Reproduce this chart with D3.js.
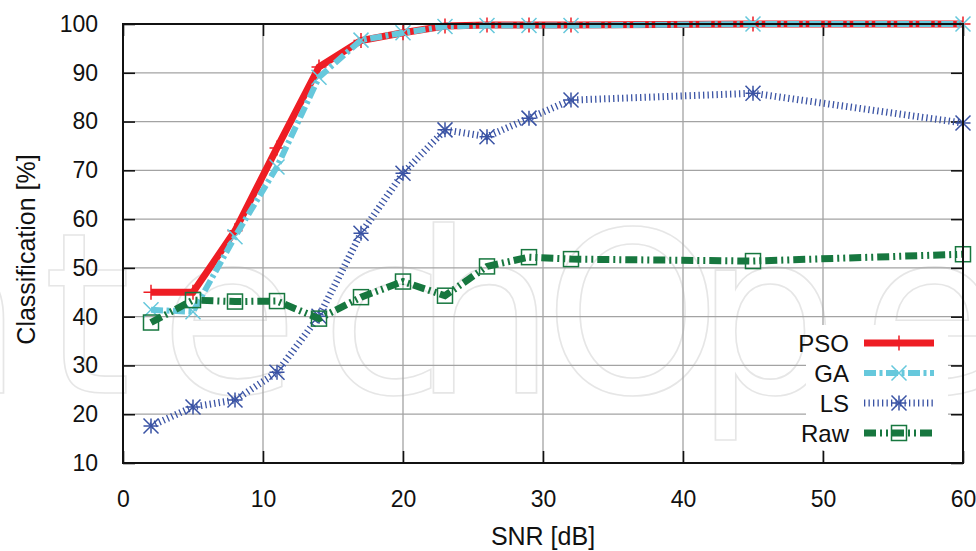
<!DOCTYPE html>
<html>
<head>
<meta charset="utf-8">
<script src="https://cdn.jsdelivr.net/npm/d3@7"></script>
<style>
  body { margin: 0; background: #fff; }
  text { font-family: "Liberation Sans", Arial, sans-serif; fill: #111; }
</style>
</head>
<body>
<div id="chart"></div>
<script>
// data
var snr = [2, 5, 8, 11, 14, 17, 20, 23, 26, 29, 32, 45, 60];
var pso = [45.0, 45.0, 57.6, 74.6, 91.2, 96.6, 98.2, 99.6, 99.8, 99.8, 99.8, 100, 100];
var ga  = [41.4, 41.0, 56.4, 70.7, 89.1, 96.7, 98.2, 99.5, 99.7, 99.7, 99.7, 100, 100];
var ls  = [17.6, 21.5, 22.9, 28.6, 40.1, 57.1, 69.4, 78.3, 76.9, 80.7, 84.4, 85.8, 79.7];
var raw = [38.8, 43.4, 43.1, 43.2, 39.6, 44.0, 47.2, 44.3, 50.3, 52.2, 51.8, 51.4, 52.8];

var xTicks = [0, 10, 20, 30, 40, 50, 60];
var yTicks = [10, 20, 30, 40, 50, 60, 70, 80, 90, 100];
var seriesNames = ["PSO", "GA", "LS", "Raw"];

var svgWidth = 976;
var svgHeight = 551;

var margin = { top: 24, right: 13, bottom: 88, left: 123 };
var width = svgWidth - margin.left - margin.right;
var height = svgHeight - margin.top - margin.bottom;

var svg = d3.select("#chart")
  .append("svg")
  .attr("width", svgWidth)
  .attr("height", svgHeight);

// faint publisher watermark behind everything
var mark = [
  { ch: "n", x: -120 }, { ch: "t", x: 43 }, { ch: "e", x: 160 }, { ch: "c", x: 321 },
  { ch: "h", x: 413 }, { ch: "O", x: 544 }, { ch: "p", x: 695 }, { ch: "e", x: 862 }
];
svg.append("g").selectAll("text")
  .data(mark)
  .enter()
  .append("text")
  .attr("x", d => d.x)
  .attr("y", 393)
  .style("font-family", "DejaVu Sans")
  .style("font-size", "225px")
  .style("fill", "none")
  .style("stroke", "#e6e6e6")
  .style("stroke-width", 1.6)
  .text(d => d.ch);

var chartGroup = svg.append("g")
  .attr("transform", `translate(${margin.left}, ${margin.top})`);

var x = d3.scaleLinear().domain([0, 60]).range([0, width]);
var y = d3.scaleLinear().domain([10, 100]).range([height, 0]);

// grid
chartGroup.append("g")
  .selectAll("line")
  .data(xTicks.slice(1, -1))
  .enter()
  .append("line")
  .attr("x1", d => x(d)).attr("x2", d => x(d))
  .attr("y1", 0).attr("y2", height)
  .attr("stroke", "#a3a3a3")
  .attr("stroke-width", 1.3);

chartGroup.append("g")
  .selectAll("line")
  .data(yTicks.slice(1, -1))
  .enter()
  .append("line")
  .attr("x1", 0).attr("x2", width)
  .attr("y1", d => y(d)).attr("y2", d => y(d))
  .attr("stroke", "#a3a3a3")
  .attr("stroke-width", 1.3);

// axes with inward ticks on all four sides
var tickLen = 12;
var bottomAxis = d3.axisBottom(x).tickValues(xTicks).tickSize(-tickLen).tickPadding(tickLen + 16);
var topAxis = d3.axisTop(x).tickValues(xTicks).tickSize(-tickLen).tickFormat("");
var leftAxis = d3.axisLeft(y).tickValues(yTicks).tickSize(-tickLen).tickPadding(tickLen + 13);
var rightAxis = d3.axisRight(y).tickValues(yTicks).tickSize(-tickLen).tickFormat("");

function styleAxis(g) {
  g.select(".domain").remove();
  g.selectAll(".tick line").attr("stroke", "#111").attr("stroke-width", 1.6);
  g.selectAll("text").style("font-size", "23px").attr("fill", "#111");
}

chartGroup.append("g").attr("transform", `translate(0, ${height})`).call(bottomAxis).call(styleAxis);
chartGroup.append("g").call(topAxis).call(styleAxis);
chartGroup.append("g").call(leftAxis).call(styleAxis);
chartGroup.append("g").attr("transform", `translate(${width}, 0)`).call(rightAxis).call(styleAxis);

// legend background box hides the grid behind it
chartGroup.append("rect")
  .attr("x", 683).attr("y", 301)
  .attr("width", 142).attr("height", 125)
  .attr("fill", "#fff");

// series styles
var styles = {
  PSO: { color: "#ee1d24", width: 7, dash: null, marker: "plus" },
  GA:  { color: "#66c8dc", width: 6, dash: "12,3.5,3,3.5", marker: "cross" },
  LS:  { color: "#3a53a4", width: 7, dash: "1.3,3.2", marker: "star" },
  Raw: { color: "#17773f", width: 7, dash: "12,4,2,4,2,4", marker: "square" }
};
var seriesData = { PSO: pso, GA: ga, LS: ls, Raw: raw };

var line = d3.line()
  .x(d => x(d[0]))
  .y(d => y(d[1]));

function drawMarker(g, type, color) {
  var s = 7.5;
  if (type === "plus" || type === "star") {
    g.append("path").attr("d", `M${-s},0H${s}M0,${-s}V${s}`);
  }
  if (type === "cross" || type === "star") {
    g.append("path").attr("d", `M${-s},${-s}L${s},${s}M${-s},${s}L${s},${-s}`);
  }
  if (type === "square") {
    g.append("rect").attr("x", -s).attr("y", -s).attr("width", 2 * s).attr("height", 2 * s)
      .attr("fill", "none");
  }
  g.selectAll("path, rect").attr("stroke", color).attr("stroke-width", 1.5)
    .attr("fill", "none");
}

seriesNames.forEach(function(name) {
  var st = styles[name];
  var pts = snr.map((v, i) => [v, seriesData[name][i]]);

  chartGroup.append("path")
    .datum(pts)
    .attr("d", line)
    .attr("fill", "none")
    .attr("stroke", st.color)
    .attr("stroke-width", st.width)
    .attr("stroke-dasharray", st.dash)
    .attr("stroke-linejoin", "miter");

  chartGroup.append("g")
    .selectAll("g")
    .data(pts)
    .enter()
    .append("g")
    .attr("transform", d => `translate(${x(d[0])}, ${y(d[1])})`)
    .each(function() { drawMarker(d3.select(this), st.marker, st.color); });
});

// legend
var legend = chartGroup.append("g")
  .attr("transform", "translate(0, 319)");

seriesNames.forEach(function(name, i) {
  var st = styles[name];
  var row = legend.append("g").attr("transform", `translate(0, ${i * 30})`);
  row.append("text")
    .attr("x", 726)
    .attr("y", 9)
    .attr("text-anchor", "end")
    .style("font-size", "24px")
    .text(name);
  row.append("line")
    .attr("x1", 741).attr("x2", 811)
    .attr("y1", 0).attr("y2", 0)
    .attr("stroke", st.color)
    .attr("stroke-width", st.width)
    .attr("stroke-dasharray", st.dash);
  var m = row.append("g").attr("transform", "translate(776, 0)");
  drawMarker(m, st.marker, st.color);
});

// border
chartGroup.append("rect")
  .attr("width", width)
  .attr("height", height)
  .attr("fill", "none")
  .attr("stroke", "#111")
  .attr("stroke-width", 2);

// axis titles
chartGroup.append("text")
  .attr("transform", "rotate(-90)")
  .attr("x", 0 - (height / 2) - 6)
  .attr("y", 0 - margin.left + 35)
  .attr("text-anchor", "middle")
  .style("font-size", "25px")
  .text("Classification [%]");

chartGroup.append("text")
  .attr("x", width / 2)
  .attr("y", height + 82)
  .attr("text-anchor", "middle")
  .style("font-size", "25px")
  .text("SNR [dB]");
</script>
</body>
</html>
